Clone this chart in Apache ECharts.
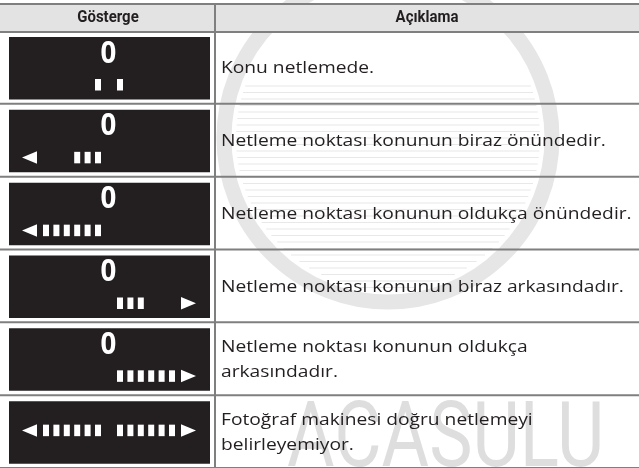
<!DOCTYPE html>
<html>
<head>
<meta charset="utf-8">
<script src="https://cdn.jsdelivr.net/npm/echarts@6/dist/echarts.min.js"></script>
<style>html,body{margin:0;padding:0;background:#fff}#c{width:639px;height:468px}</style>
</head>
<body>
<div id="c"></div>
<script>
// ---- data ----
const headers = ['Gösterge', 'Açıklama'];
const rowIds = [0, 1, 2, 3, 4, 5];
const zeroShown = [true, true, true, true, true, false];
const leftArrow = [false, true, true, false, false, true];
const leftBars = [1, 3, 6, 0, 0, 6];
const rightBars = [1, 0, 0, 3, 6, 6];
const rightArrow = [false, false, false, true, true, true];
const descriptions = [
  'Konu netlemede.',
  'Netleme noktası konunun biraz önündedir.',
  'Netleme noktası konunun oldukça önündedir.',
  'Netleme noktası konunun biraz arkasındadır.',
  'Netleme noktası konunun oldukça\narkasındadır.',
  'Fotoğraf makinesi doğru netlemeyi\nbelirleyemiyor.'
];
const watermarkText = 'ACASULU';

// ---- chart ----
const chart = echarts.init(document.getElementById('c'), null, {renderer: 'canvas'});
const LINE = '#7f7f7f';
const INK = '#231f20';
const DIV_X = 215;

function renderItem(params, api) {
  const r = api.value(0);
  const c = api.coord([0, r]);
  const bandH = api.size([0, 1])[1];
  const top = c[1] - bandH / 2;
  const bottom = top + bandH;
  const x0 = api.coord([9, r])[0];
  const x1 = api.coord([210, r])[0];
  const children = [];
  children.push({type: 'rect', shape: {x: x0, y: top + 6, width: x1 - x0, height: Math.min(62.5, 468 - top)}, style: {fill: INK}});
  const zero = zeroShown[r];
  const by = zero ? top + 48 : top + 29.5;
  const bh = 11.5;
  if (zero) {
    children.push({type: 'text', x: api.coord([108.5, r])[0], y: top + 23, scaleX: 0.92,
      style: {text: '0', x: 0, y: 0, align: 'center', verticalAlign: 'middle', font: 'bold 30px "Open Sans"', fill: '#fff'}});
  }
  for (let k = 0; k < leftBars[r]; k++) {
    const bx = api.coord([95 - k * 10.4, r])[0];
    children.push({type: 'rect', shape: {x: bx, y: by, width: 6, height: bh}, style: {fill: '#fff'}});
  }
  for (let k = 0; k < rightBars[r]; k++) {
    const bx = api.coord([117 + k * 10.4, r])[0];
    children.push({type: 'rect', shape: {x: bx, y: by, width: 6, height: bh}, style: {fill: '#fff'}});
  }
  if (leftArrow[r]) {
    const a = api.coord([22, r])[0], b = api.coord([37, r])[0];
    children.push({type: 'polygon', shape: {points: [[a, by + bh / 2], [b, by - 0.5], [b, by + bh + 0.5]]}, style: {fill: '#fff'}});
  }
  if (rightArrow[r]) {
    const a = api.coord([196, r])[0], b = api.coord([181, r])[0];
    children.push({type: 'polygon', shape: {points: [[a, by + bh / 2], [b, by - 0.5], [b, by + bh + 0.5]]}, style: {fill: '#fff'}});
  }
  children.push({type: 'text', x: api.coord([221, r])[0], y: c[1] + 1, scaleX: 1.13,
    style: {text: descriptions[r], x: 0, y: 0, align: 'left', verticalAlign: 'middle', font: '17px "Open Sans"', lineHeight: 25, fill: INK}});
  // row separator
  children.push({type: 'rect', shape: {x: 0, y: bottom - 1, width: 639, height: 2}, style: {fill: LINE}});
  // column divider
  children.push({type: 'rect', shape: {x: api.coord([DIV_X - 1, r])[0], y: top, width: 2, height: bandH}, style: {fill: LINE}});
  return {type: 'group', children};
}

// watermark graphics
const wm = [];
const cx = 388, cy = 138, R = 172;
const stripes = [];
for (let y = 86; y <= 292; y += 6.5) stripes.push(y);
stripes.forEach(function (y) {
  const dy = y - cy;
  const inner = R - 20;
  if (Math.abs(dy) < inner) {
    const hw = Math.sqrt(inner * inner - dy * dy);
    wm.push({type: 'line', z: 0, shape: {x1: cx - hw, y1: y, x2: cx + hw, y2: y}, style: {stroke: '#e8e8e8', lineWidth: 1.2}});
  }
});
wm.push({type: 'circle', z: 0, shape: {cx: cx, cy: cy, r: R - 8}, style: {fill: 'none', stroke: '#e6e6e6', lineWidth: 15}});
wm.push({type: 'text', z: 0, x: 287, y: 398, scaleX: 0.81,
  style: {text: watermarkText, x: 0, y: 0, font: '90px Roboto', fill: '#dedede'}});

chart.setOption({
  animation: false,
  backgroundColor: '#fff',
  grid: {left: 0, right: 0, top: 31, bottom: -3, containLabel: false},
  xAxis: {type: 'value', min: 0, max: 639, show: false},
  yAxis: {type: 'category', data: rowIds, inverse: true, show: false},
  graphic: wm.concat([
    {type: 'rect', z: 10, shape: {x: 0, y: 5, width: 639, height: 26}, style: {fill: '#e3e3e3'}},
    {type: 'rect', z: 10, shape: {x: 0, y: 3, width: 639, height: 2}, style: {fill: LINE}},
    {type: 'rect', z: 10, shape: {x: 0, y: 31, width: 639, height: 2}, style: {fill: LINE}},
    {type: 'rect', z: 10, shape: {x: DIV_X - 1, y: 3, width: 2, height: 30}, style: {fill: LINE}},
    {type: 'text', z: 11, x: 108, y: 17.5, scaleX: 0.88,
      style: {text: headers[0], x: 0, y: 0, align: 'center', verticalAlign: 'middle', font: 'bold 17px Roboto', fill: INK}},
    {type: 'text', z: 11, x: 427, y: 17.5, scaleX: 0.88,
      style: {text: headers[1], x: 0, y: 0, align: 'center', verticalAlign: 'middle', font: 'bold 17px Roboto', fill: INK}}
  ]),
  series: [{
    type: 'custom',
    z: 5,
    data: rowIds.map(function (r) { return [r]; }),
    encode: {y: 0},
    renderItem: renderItem,
    clip: false
  }]
});
</script>
</body>
</html>
